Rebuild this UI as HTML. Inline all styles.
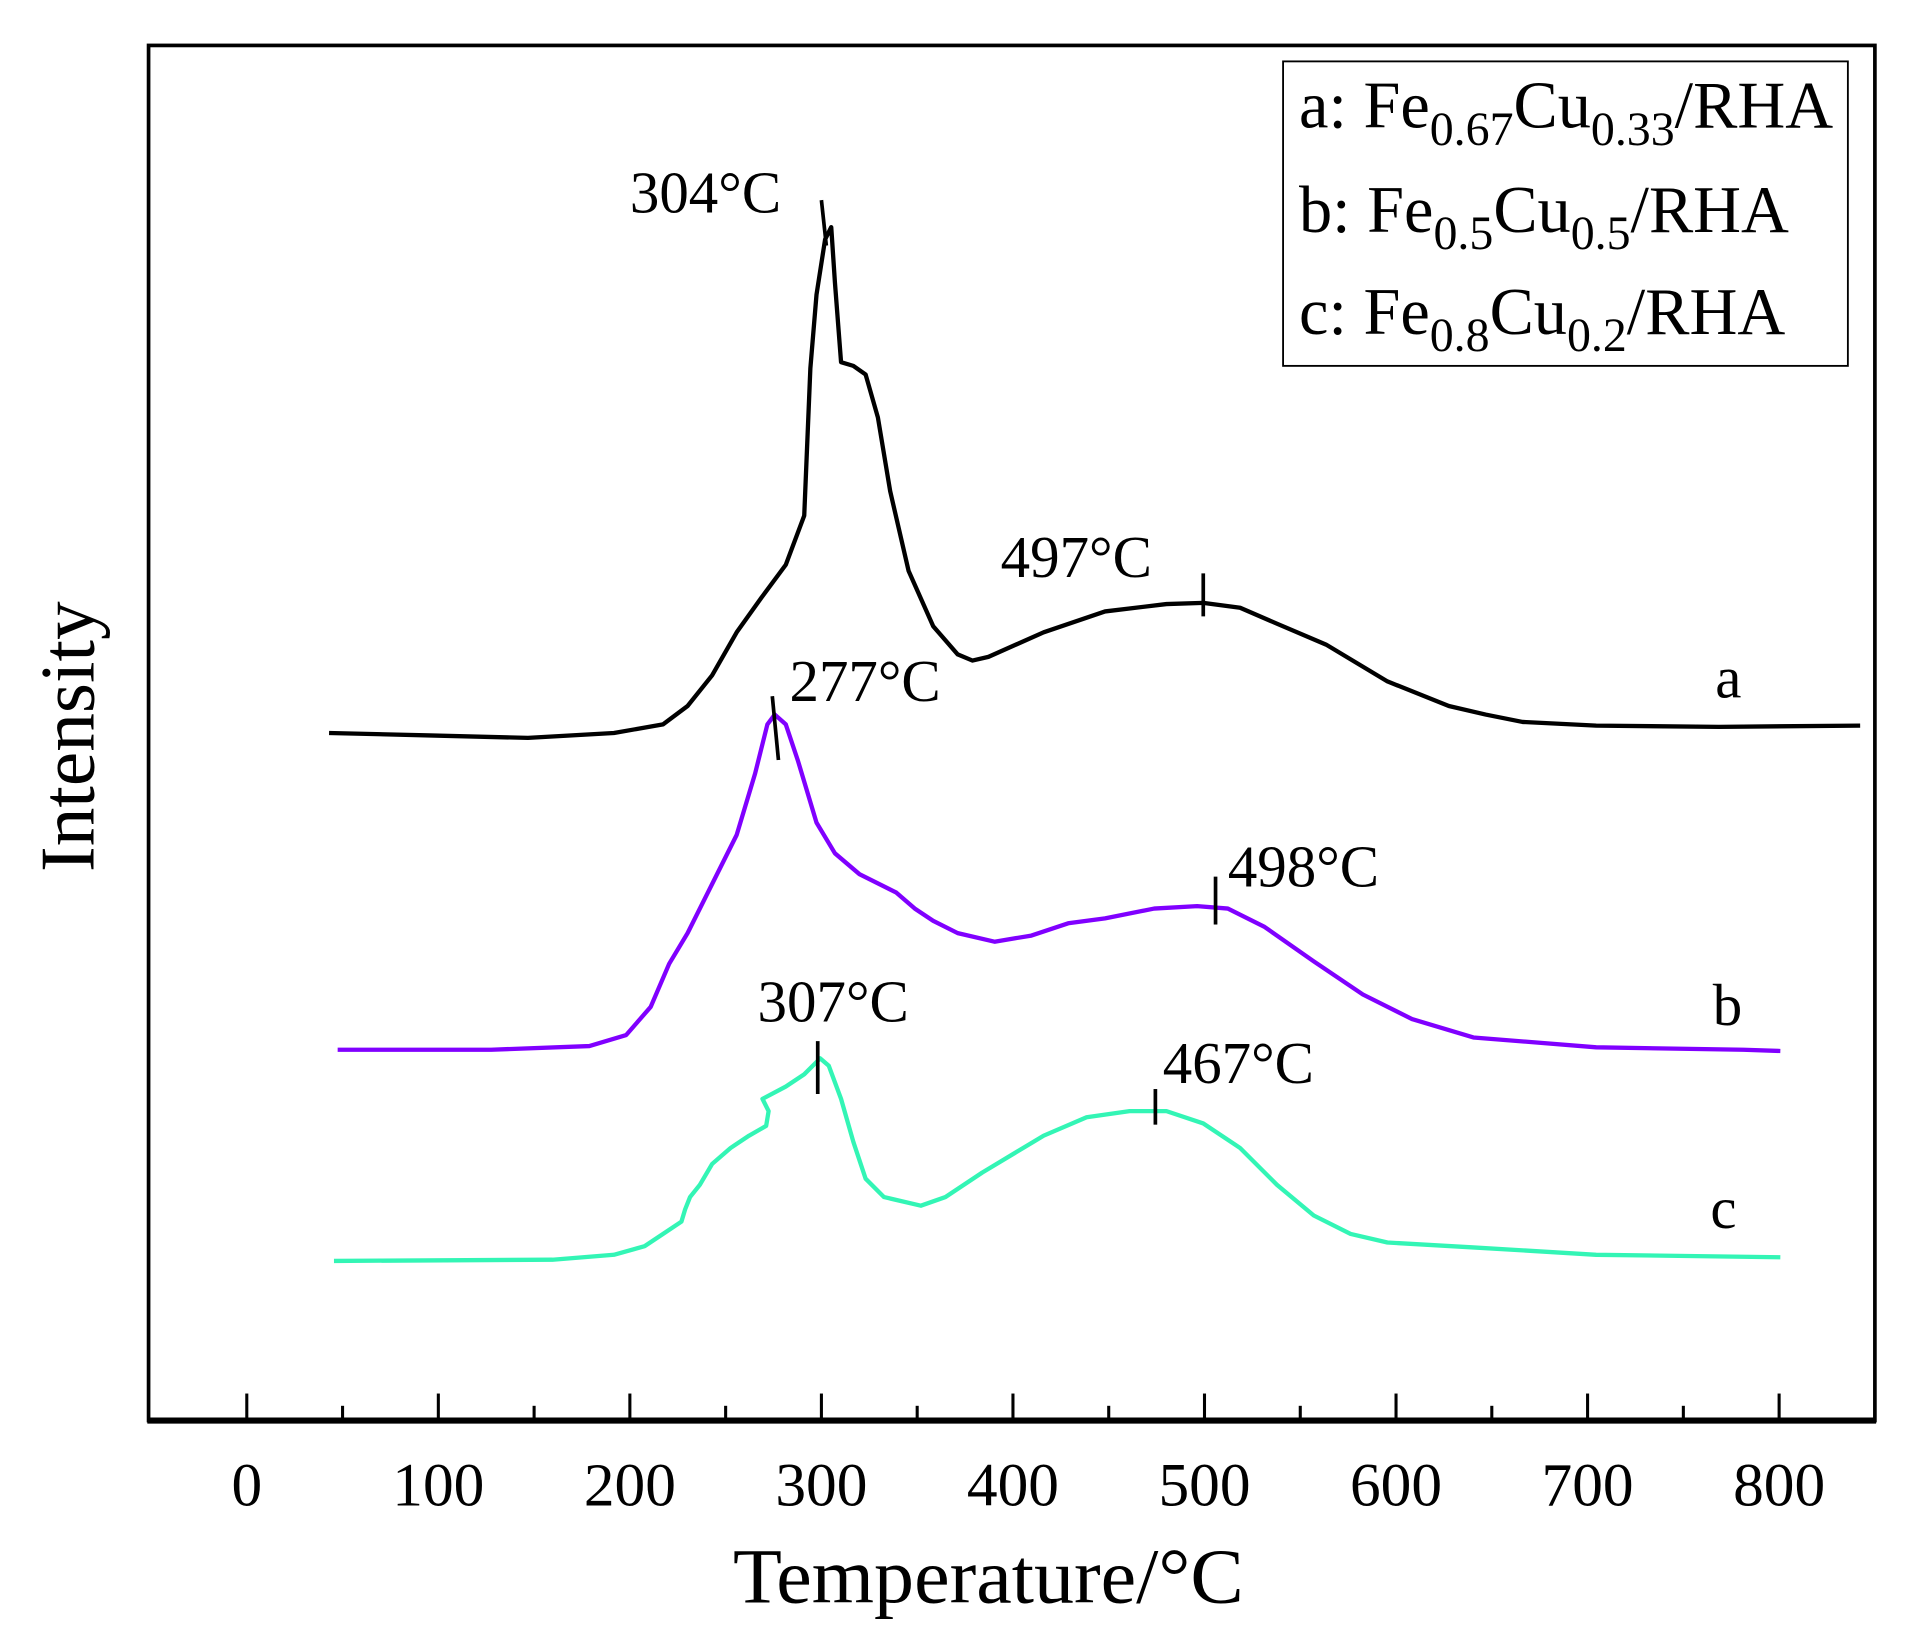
<!DOCTYPE html>
<html><head><style>html,body{margin:0;padding:0;background:#fff}svg{display:block}</style></head>
<body>
<svg width="1924" height="1644" viewBox="0 0 1567 1339" preserveAspectRatio="none" xmlns="http://www.w3.org/2000/svg" font-family="'Liberation Serif', serif">
<rect x="121" y="37" width="1406" height="1120" fill="none" stroke="#000" stroke-width="3"/>
<line x1="120" y1="1157" x2="1528" y2="1157" stroke="#000" stroke-width="5"/>
<g stroke="#000" stroke-width="2.5">
<line x1="201" y1="1157" x2="201" y2="1135"/><line x1="279" y1="1157" x2="279" y2="1145"/>
<line x1="357" y1="1157" x2="357" y2="1135"/><line x1="435" y1="1157" x2="435" y2="1145"/>
<line x1="513" y1="1157" x2="513" y2="1135"/><line x1="591" y1="1157" x2="591" y2="1145"/>
<line x1="669" y1="1157" x2="669" y2="1135"/><line x1="747" y1="1157" x2="747" y2="1145"/>
<line x1="825" y1="1157" x2="825" y2="1135"/><line x1="903" y1="1157" x2="903" y2="1145"/>
<line x1="981" y1="1157" x2="981" y2="1135"/><line x1="1059" y1="1157" x2="1059" y2="1145"/>
<line x1="1137" y1="1157" x2="1137" y2="1135"/><line x1="1215" y1="1157" x2="1215" y2="1145"/>
<line x1="1293" y1="1157" x2="1293" y2="1135"/><line x1="1371" y1="1157" x2="1371" y2="1145"/>
<line x1="1449" y1="1157" x2="1449" y2="1135"/>
</g>
<g font-size="50" text-anchor="middle">
<text x="201" y="1226">0</text><text x="357" y="1226">100</text><text x="513" y="1226">200</text>
<text x="669" y="1226">300</text><text x="825" y="1226">400</text><text x="981" y="1226">500</text>
<text x="1137" y="1226">600</text><text x="1293" y="1226">700</text><text x="1449" y="1226">800</text>
</g>
<text x="597" y="1305" font-size="64" textLength="416" lengthAdjust="spacingAndGlyphs">Temperature/°C</text>
<text transform="translate(76,600) rotate(-90)" font-size="63" text-anchor="middle">Intensity</text>
<rect x="1045" y="50" width="460" height="248" fill="none" stroke="#000" stroke-width="1.5"/>
<g font-size="54">
<text x="1058" y="104">a: Fe<tspan font-size="39" dy="14">0.67</tspan><tspan dy="-14">Cu</tspan><tspan font-size="39" dy="14">0.33</tspan><tspan dy="-14">/RHA</tspan></text>
<text x="1058" y="189">b: Fe<tspan font-size="39" dy="14">0.5</tspan><tspan dy="-14">Cu</tspan><tspan font-size="39" dy="14">0.5</tspan><tspan dy="-14">/RHA</tspan></text>
<text x="1058" y="272">c: Fe<tspan font-size="39" dy="14">0.8</tspan><tspan dy="-14">Cu</tspan><tspan font-size="39" dy="14">0.2</tspan><tspan dy="-14">/RHA</tspan></text>
</g>
<g fill="none" stroke-width="3.5" stroke-linejoin="round">
<polyline stroke="#000" points="268,597 350,599 430,601 500,597 540,590 560,575 580,550 600,515 620,487 640,460 655,420 660,300 665,240 672,195 677,185 680,230 685,295 695,298 705,305 715,340 725,400 740,465 760,510 780,533 792,538 805,535 850,515 900,498 950,492 980,491 1010,495 1040,508 1080,525 1130,555 1180,575 1210,582 1240,588 1300,591 1400,592 1515,591"/>
<polyline stroke="#8000ff" points="275,855 400,855 480,852 510,843 530,820 545,785 560,760 580,720 600,680 615,630 625,590 631,582 640,590 650,620 665,670 680,695 700,712 730,727 745,740 760,750 780,760 810,767 840,762 870,752 900,748 940,740 975,738 1000,740 1030,755 1070,783 1110,810 1150,830 1200,845 1300,853 1420,855 1450,856"/>
<polyline stroke="#33f5b5" points="272,1027 450,1026 500,1022 525,1015 540,1005 555,995 558,985 562,975 570,965 580,948 595,935 610,925 624,917 626,905 621,895 640,885 655,875 668,862 675,868 685,895 695,930 705,960 720,975 750,982 770,975 800,955 850,925 885,910 920,905 950,905 980,915 1010,935 1040,965 1070,990 1100,1005 1130,1012 1200,1016 1300,1022 1450,1024"/>
</g>
<g stroke="#000" stroke-width="3">
<line x1="669" y1="163" x2="673" y2="200"/>
<line x1="980" y1="467" x2="980" y2="502"/>
<line x1="629" y1="567" x2="634" y2="619"/>
<line x1="990" y1="714" x2="990" y2="753"/>
<line x1="666" y1="848" x2="666" y2="891"/>
<line x1="941" y1="887" x2="941" y2="916"/>
</g>
<g font-size="48">
<text x="513" y="173">304°C</text>
<text x="815" y="470">497°C</text>
<text x="643" y="571">277°C</text>
<text x="1000" y="722">498°C</text>
<text x="617" y="832">307°C</text>
<text x="947" y="882">467°C</text>
<text x="1397" y="568">a</text>
<text x="1395" y="835">b</text>
<text x="1393" y="1000">c</text>
</g>
</svg>
</body></html>
